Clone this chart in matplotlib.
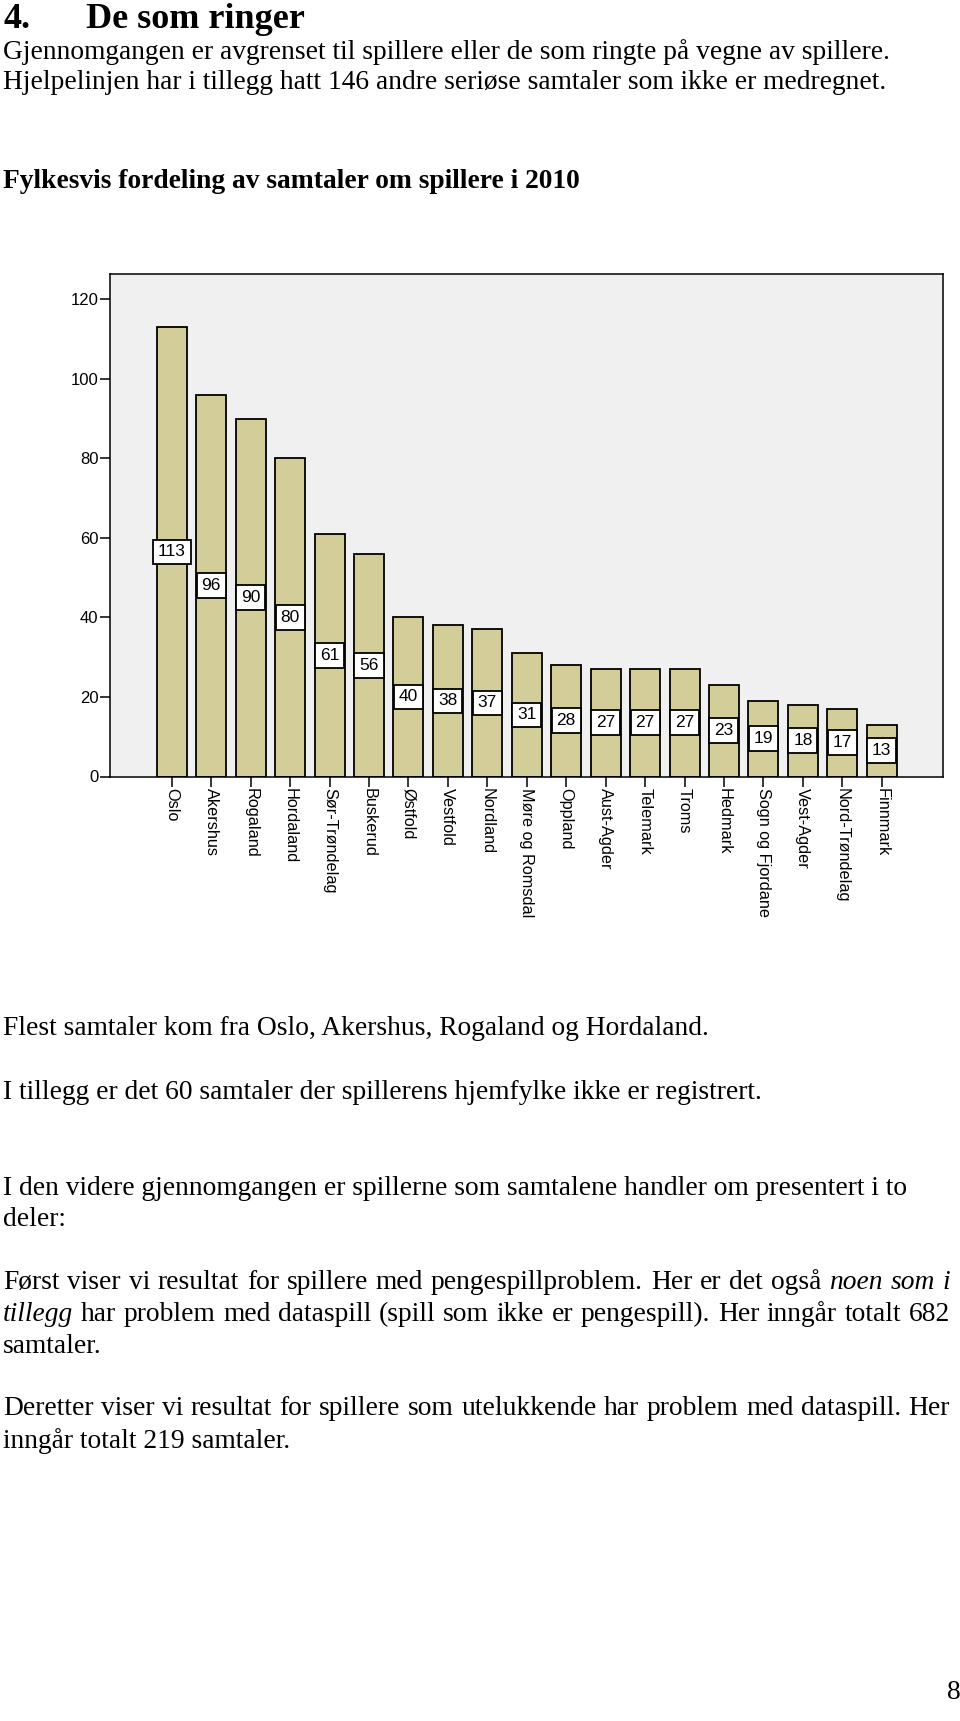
import matplotlib
matplotlib.use("Agg")
import matplotlib.pyplot as plt

# Fylkesvis fordeling av samtaler om spillere i 2010
fylker = ["Oslo", "Akershus", "Rogaland", "Hordaland", "Sør-Trøndelag", "Buskerud",
          "Østfold", "Vestfold", "Nordland", "Møre og Romsdal", "Oppland", "Aust-Agder",
          "Telemark", "Troms", "Hedmark", "Sogn og Fjordane", "Vest-Agder",
          "Nord-Trøndelag", "Finnmark"]
samtaler = [113, 96, 90, 80, 61, 56, 40, 38, 37, 31, 28, 27, 27, 27, 23, 19, 18, 17, 13]
yticks = [0, 20, 40, 60, 80, 100, 120]

W, H = 960, 1721
SERIF = "Liberation Serif"
SANS = "Liberation Sans"
BODY = 19.8
RIGHT = 950  # right margin of justified lines

fig = plt.figure(figsize=(W / 100, H / 100), dpi=100)
renderer = fig.canvas.get_renderer()


def fy(y):
    return 1 - y / H


def line(x, y, parts, justify=False):
    """Draw a line of (text, style) pieces; justified lines spread the words out to RIGHT."""
    if not justify:
        for txt, style in parts:
            t = fig.text(x / W, fy(y), txt, fontsize=BODY, family=SERIF, style=style,
                         va="baseline", ha="left")
            x += t.get_window_extent(renderer).width
        return
    words = [(w, style) for txt, style in parts for w in txt.split()]
    texts = [fig.text(0, fy(y), w, fontsize=BODY, family=SERIF, style=s,
                      va="baseline", ha="left") for w, s in words]
    widths = [t.get_window_extent(renderer).width for t in texts]
    gap = (RIGHT - x - sum(widths)) / (len(words) - 1)
    for t, wdt in zip(texts, widths):
        t.set_x(x / W)
        x += wdt + gap


# page text above the chart
fig.text(3 / W, fy(28), "4.", fontsize=26, family=SERIF, weight="bold", va="baseline")
fig.text(86 / W, fy(28), "De som ringer", fontsize=26, family=SERIF, weight="bold", va="baseline")
line(3, 59, [("Gjennomgangen er avgrenset til spillere eller de som ringte på vegne av spillere.", "normal")])
line(3, 89, [("Hjelpelinjen har i tillegg hatt 146 andre seriøse samtaler som ikke er medregnet.", "normal")])
fig.text(3 / W, fy(188), "Fylkesvis fordeling av samtaler om spillere i 2010", fontsize=BODY,
         family=SERIF, weight="bold", va="baseline")

# chart
ax = fig.add_axes([110 / W, fy(776.5), (943.3 - 110) / W, (776.5 - 274) / H])
ax.set_facecolor("#f0f0f0")
x = list(range(len(fylker)))
ax.bar(x, samtaler, width=0.76, color="#d3ce99", edgecolor="black", linewidth=1.3, zorder=2)
for xi, v in zip(x, samtaler):
    ax.text(xi, v / 2, str(v), ha="center", va="center", fontsize=12.5, family=SANS, zorder=3,
            bbox=dict(boxstyle="square,pad=0.28", fc="white", ec="black", lw=1.3))
ax.set_xlim(-1.565, 19.56)
ax.set_ylim(0, 126.4)
ax.set_yticks(yticks)
ax.set_yticklabels([str(t) for t in yticks], fontsize=12, family=SANS)
ax.set_xticks(x)
ax.set_xticklabels(fylker, rotation=270, fontsize=11.7, family=SANS, va="top", ha="center")
ax.tick_params(axis="both", direction="out", length=7.2, width=1.1, pad=1, color="black")
for s in ax.spines.values():
    s.set_linewidth(1.1)
    s.set_color("black")

# page text below the chart
line(3, 1035, [("Flest samtaler kom fra Oslo, Akershus, Rogaland og Hordaland.", "normal")])
line(3, 1099, [("I tillegg er det 60 samtaler der spillerens hjemfylke ikke er registrert.", "normal")])
line(3, 1195, [("I den videre gjennomgangen er spillerne som samtalene handler om presentert i to", "normal")])
line(3, 1226, [("deler:", "normal")])
line(3, 1289, [("Først viser vi resultat for spillere med pengespillproblem. Her er det også", "normal"),
               ("noen som i", "italic")], justify=True)
line(3, 1321, [("tillegg", "italic"),
               ("har problem med dataspill (spill som ikke er pengespill). Her inngår totalt 682", "normal")],
     justify=True)
line(3, 1353, [("samtaler.", "normal")])
line(3, 1415, [("Deretter viser vi resultat for spillere som utelukkende har problem med dataspill. Her", "normal")],
     justify=True)
line(3, 1448, [("inngår totalt 219 samtaler.", "normal")])
fig.text(947 / W, fy(1699), "8", fontsize=BODY, family=SERIF, va="baseline", ha="left")

fig.savefig("out.png", dpi=100)
